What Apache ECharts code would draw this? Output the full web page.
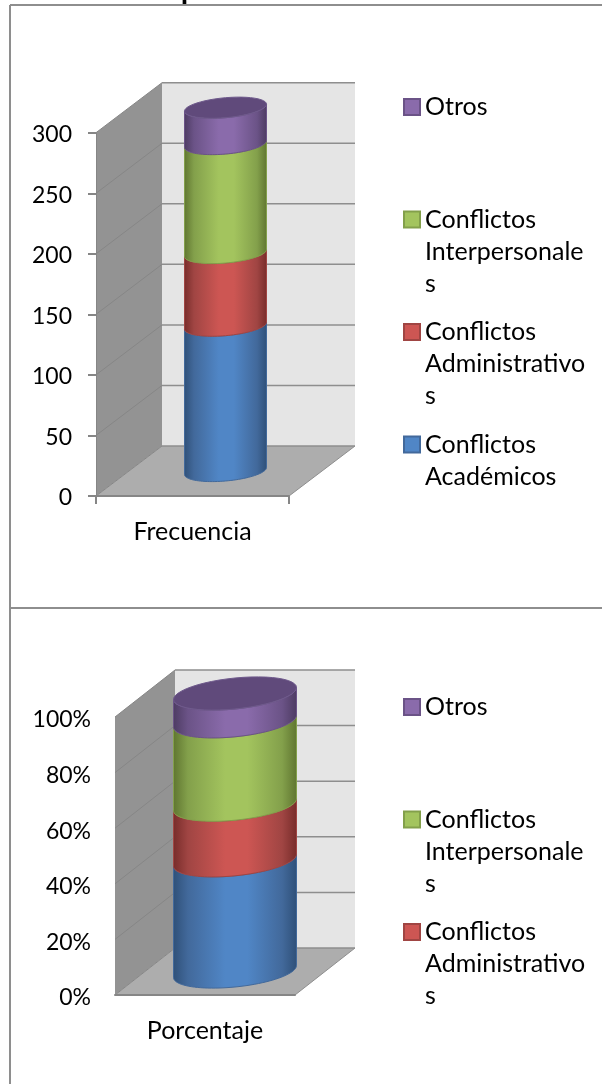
<!DOCTYPE html>
<html>
<head>
<meta charset="utf-8">
<title>Frecuencia y porcentaje</title>
<script src="https://cdn.jsdelivr.net/npm/echarts@6/dist/echarts.min.js"></script>
<style>
  html, body { margin: 0; padding: 0; background: #fff; }
  #chart { width: 602px; height: 1084px; }
</style>
</head>
<body>
<div id="chart"></div>
<script>
// datos
const seriesNames = ['Conflictos Académicos', 'Conflictos Administrativos', 'Conflictos Interpersonales', 'Otros']
const freqCategories = ['Frecuencia']
const pctCategories = ['Porcentaje']
const freqValues = [120, 60, 90, 30]
const pctValues = [40, 20, 30, 10]
const freqTicks = [0, 50, 100, 150, 200, 250, 300]
const pctTicks = [0, 20, 40, 60, 80, 100]
const legendFreq = ['Otros', 'Conflictos Interpersonales', 'Conflictos Administrativos', 'Conflictos Académicos']
const legendPct = ['Otros', 'Conflictos Interpersonales', 'Conflictos Administrativos']

// texto de la leyenda: las lineas en blanco dejan el icono a la altura de la primera linea
const legendText = {
  'Otros': '\n\nOtros\n\n',
  'Conflictos Interpersonales': '\n\nConflictos\nInterpersonale\ns',
  'Conflictos Administrativos': '\n\nConflictos\nAdministrativo\ns',
  'Conflictos Académicos': '\n\nConflictos\nAcadémicos\n'
}

const font = 'Lato'
const palette = [
  { main: '#5086c6', dark: '#2f5078', edge: '#42699b' },
  { main: '#cd5653', dark: '#772c2a', edge: '#a04543' },
  { main: '#a3c45e', dark: '#5f7530', edge: '#83a04b' },
  { main: '#8a6bab', dark: '#4d3b62', edge: '#6b5387' }
]
const topColor = '#604a7b'

const charts = [
  { categories: freqCategories, values: freqValues, ticks: freqTicks, max: 300, dx: 66, dy: -50, radius: 41, ry: 10, tilt: 7 },
  { categories: pctCategories, values: pctValues, ticks: pctTicks, max: 100, dx: 60, dy: -47, radius: 61.5, ry: 15.5, tilt: 12 }
]

function ellipsePts (cx, cy, c, from, to) {
  const pts = []
  const n = 48
  for (let i = 0; i <= n; i++) {
    const t = from + (to - from) * i / n
    pts.push([cx + c.radius * Math.cos(t), cy + c.ry * Math.sin(t) - c.tilt / 2 * Math.cos(t)])
  }
  return pts
}

function wallsSeries (c, idx) {
  return {
    type: 'custom',
    xAxisIndex: idx,
    yAxisIndex: idx,
    z: 1,
    silent: true,
    clip: false,
    data: [0],
    renderItem: function (params, api) {
      const f0 = api.coord([c.categories[0], 0])
      const f1 = api.coord([c.categories[0], c.max])
      const w = api.size([1, 0])[0]
      const l = f0[0] - w / 2
      const r = f0[0] + w / 2
      const bottom = f0[1]
      const top = f1[1]
      const poly = (points, fill) => ({ type: 'polygon', shape: { points }, style: { fill, stroke: null } })
      return {
        type: 'group',
        children: [
          poly([[l + c.dx, top + c.dy], [r + c.dx, top + c.dy], [r + c.dx, bottom + c.dy], [l + c.dx, bottom + c.dy]], '#e5e5e5'),
          poly([[l, top], [l + c.dx, top + c.dy], [l + c.dx, bottom + c.dy], [l, bottom]], '#939393'),
          poly([[l, bottom], [r, bottom], [r + c.dx, bottom + c.dy], [l + c.dx, bottom + c.dy]], '#adadad')
        ]
      }
    }
  }
}

function gridSeries (c, idx) {
  return {
    type: 'custom',
    xAxisIndex: idx,
    yAxisIndex: idx,
    z: 1,
    silent: true,
    clip: false,
    data: c.ticks,
    encode: { y: 0 },
    renderItem: function (params, api) {
      const p = api.coord([c.categories[0], api.value(0)])
      const w = api.size([1, 0])[0]
      const l = p[0] - w / 2
      const r = p[0] + w / 2
      const line = (x1, y1, x2, y2, stroke, width) => ({
        type: 'line',
        shape: { x1, y1, x2, y2 },
        style: { stroke, lineWidth: width }
      })
      const children = [line(l, p[1], l + c.dx, p[1] + c.dy, '#868686', 1)]
      children.push(line(l + c.dx, p[1] + c.dy, r + c.dx, p[1] + c.dy, '#8e8e8e', 1.5))
      if (api.value(0) === 0) {
        children.push(line(r, p[1], r + c.dx, p[1] + c.dy, '#8e8e8e', 1))
      }
      return { type: 'group', children }
    }
  }
}

function cylinderSeries (c, idx, s) {
  const base = c.values.slice(0, s).reduce((a, b) => a + b, 0)
  const isTop = s === c.values.length - 1
  return {
    name: seriesNames[s],
    type: 'custom',
    xAxisIndex: idx,
    yAxisIndex: idx,
    z: 2,
    clip: false,
    itemStyle: { color: palette[s].main, borderColor: palette[s].edge, borderWidth: 1.5 },
    data: [[base, base + c.values[s]]],
    encode: { y: [0, 1] },
    renderItem: function (params, api) {
      const low = api.coord([c.categories[0], api.value(0)])
      const high = api.coord([c.categories[0], api.value(1)])
      const cx = low[0] + c.dx / 2
      const yLow = low[1] + c.dy / 2
      const yHigh = high[1] + c.dy / 2
      // arco frontal arriba (izq a der) y arco frontal abajo (der a izq)
      const points = ellipsePts(cx, yHigh, c, Math.PI, 0).concat(ellipsePts(cx, yLow, c, 0, Math.PI))
      const fill = new echarts.graphic.LinearGradient(0, 0, 1, 0, [
        { offset: 0, color: palette[s].dark },
        { offset: 0.12, color: palette[s].edge },
        { offset: 0.42, color: palette[s].main },
        { offset: 0.6, color: palette[s].main },
        { offset: 0.88, color: palette[s].edge },
        { offset: 1, color: palette[s].dark }
      ])
      const children = [{ type: 'polygon', shape: { points }, style: { fill, stroke: palette[s].edge, lineWidth: 1 } }]
      if (isTop) {
        children.push({
          type: 'polygon',
          shape: { points: ellipsePts(cx, yHigh, c, 0, Math.PI * 2) },
          style: { fill: topColor, stroke: '#6f5a8c', lineWidth: 1 }
        })
      }
      return { type: 'group', children }
    }
  }
}

const axisGrey = '#868686'
const textBlack = '#000'

const option = {
  animation: false,
  backgroundColor: '#fff',
  textStyle: { fontFamily: font },
  grid: [
    { left: 96, top: 132.7, width: 193, height: 363.3 },
    { left: 115, top: 717, width: 180, height: 278 }
  ],
  xAxis: charts.map((c, i) => ({
    type: 'category',
    gridIndex: i,
    data: c.categories,
    z: 3,
    axisLine: { lineStyle: { color: axisGrey, width: 2 } },
    axisTick: { show: i === 0, length: 8, lineStyle: { color: axisGrey, width: 2 } },
    axisLabel: { color: textBlack, fontFamily: font, fontSize: 25, margin: 23 }
  })),
  yAxis: charts.map((c, i) => ({
    type: 'value',
    gridIndex: i,
    min: 0,
    max: c.max,
    interval: c.ticks[1],
    z: 3,
    axisLine: { show: i === 0, lineStyle: { color: axisGrey, width: 1 } },
    axisTick: { show: i === 0, length: 8, lineStyle: { color: axisGrey, width: 2 } },
    splitLine: { show: false },
    axisLabel: {
      color: textBlack,
      fontFamily: font,
      fontSize: 23,
      margin: 24,
      formatter: i === 0 ? '{a|{value}}' : '{a|{value}%}',
      // el relleno superior baja el numero hasta la altura de la marca
      rich: { a: { fontFamily: font, fontSize: 23, color: textBlack, padding: i === 0 ? [4, 0, 0, 0] : [6, 0, 0, 0] } }
    }
  })),
  legend: [legendFreq, legendPct].map((names, i) => ({
    orient: 'vertical',
    left: 398,
    top: i === 0 ? 22 : 622,
    data: names,
    icon: 'rect',
    itemWidth: 16,
    itemHeight: 16,
    itemGap: -47.5,
    selectedMode: false,
    formatter: name => legendText[name],
    textStyle: { color: textBlack, fontFamily: font, fontSize: 25, lineHeight: 32 }
  })),
  series: charts.flatMap((c, i) => [
    wallsSeries(c, i),
    gridSeries(c, i),
    ...c.values.map((v, s) => cylinderSeries(c, i, s))
  ]),
  graphic: [
    // resto del titulo cortado por el borde superior
    { type: 'text', x: 181, y: -20, style: { text: 'p', fill: textBlack, fontFamily: 'Liberation Serif', fontWeight: 'bold', fontSize: 26 } },
    { type: 'line', shape: { x1: 10, y1: 5, x2: 602, y2: 5 }, style: { stroke: '#8e8e8e', lineWidth: 2 } },
    { type: 'line', shape: { x1: 10, y1: 5, x2: 10, y2: 608 }, style: { stroke: '#8e8e8e', lineWidth: 2 } },
    { type: 'line', shape: { x1: 10, y1: 608, x2: 602, y2: 608 }, style: { stroke: '#8e8e8e', lineWidth: 2 } },
    { type: 'line', shape: { x1: 10, y1: 608, x2: 10, y2: 1084 }, style: { stroke: '#8e8e8e', lineWidth: 2 } }
  ]
}

const myChart = echarts.init(document.getElementById('chart'))
myChart.setOption(option)
</script>
</body>
</html>
